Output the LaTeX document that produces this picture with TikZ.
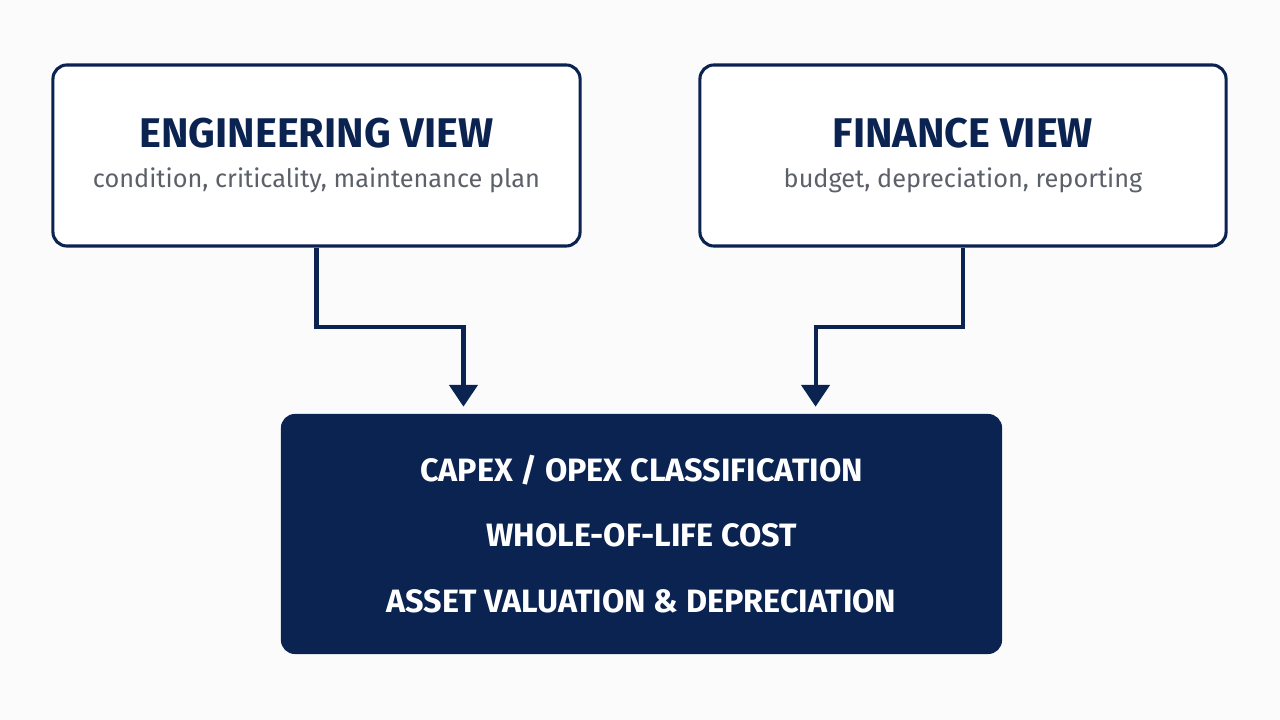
\documentclass[tikz,border=0pt]{standalone}
\usepackage{fontspec}
\setmainfont{Fira Sans}
\usetikzlibrary{arrows.meta}
\definecolor{navy}{HTML}{0A2350}
\definecolor{subgrey}{HTML}{5C6169}
\definecolor{paper}{HTML}{FBFBFC}
\tikzset{
  viewbox/.style={draw=navy, line width=2.2pt, fill=white, rounded corners=0.35cm,
    align=center, inner sep=0pt},
  calcbox/.style={fill=navy, rounded corners=0.35cm, align=center, inner sep=0pt,
    text=white, font=\fontsize{23}{28}\selectfont\bfseries},
  flow/.style={draw=navy, line width=2.9pt,
    -{Triangle[width=20pt,length=15.5pt]}, shorten >=5pt}
}
\newcommand{\viewtitle}[1]{{\fontsize{29.5}{34}\selectfont\bfseries\color{navy}#1}}
\newcommand{\viewsub}[1]{{\fontsize{18}{21}\selectfont\color{subgrey}#1}}
\begin{document}
\begin{tikzpicture}[x=0.025cm, y=-0.025cm]
            % Canvas
            \fill[paper] (0,0) rectangle (1280,720);
            \useasboundingbox (0,0) rectangle (1280,720);

            % Top row nodes
            \node[viewbox, minimum width=13.175cm, minimum height=4.525cm] (eng) at (316.5,155.5)
              {\viewtitle{ENGINEERING VIEW}\\[0.45cm]\viewsub{condition, criticality, maintenance plan}};
            \node[viewbox, minimum width=13.15cm, minimum height=4.525cm] (fin) at (963,155.5)
              {\viewtitle{FINANCE VIEW}\\[0.45cm]\viewsub{budget, depreciation, reporting}};

            % Bottom node
            \node[calcbox, minimum width=18.025cm, minimum height=6cm] (calc) at (641.5,534)
              {CAPEX / OPEX CLASSIFICATION\\[0.65cm]WHOLE-OF-LIFE COST\\[0.65cm]ASSET VALUATION \& DEPRECIATION};

            % Connectors
            \draw[flow] (eng.south) -- ++(0,79) -| ([xshift=-4.45cm]calc.north);
            \draw[flow] (fin.south) -- ++(0,79) -| ([xshift=4.35cm]calc.north);
        \end{tikzpicture}
\end{document}
